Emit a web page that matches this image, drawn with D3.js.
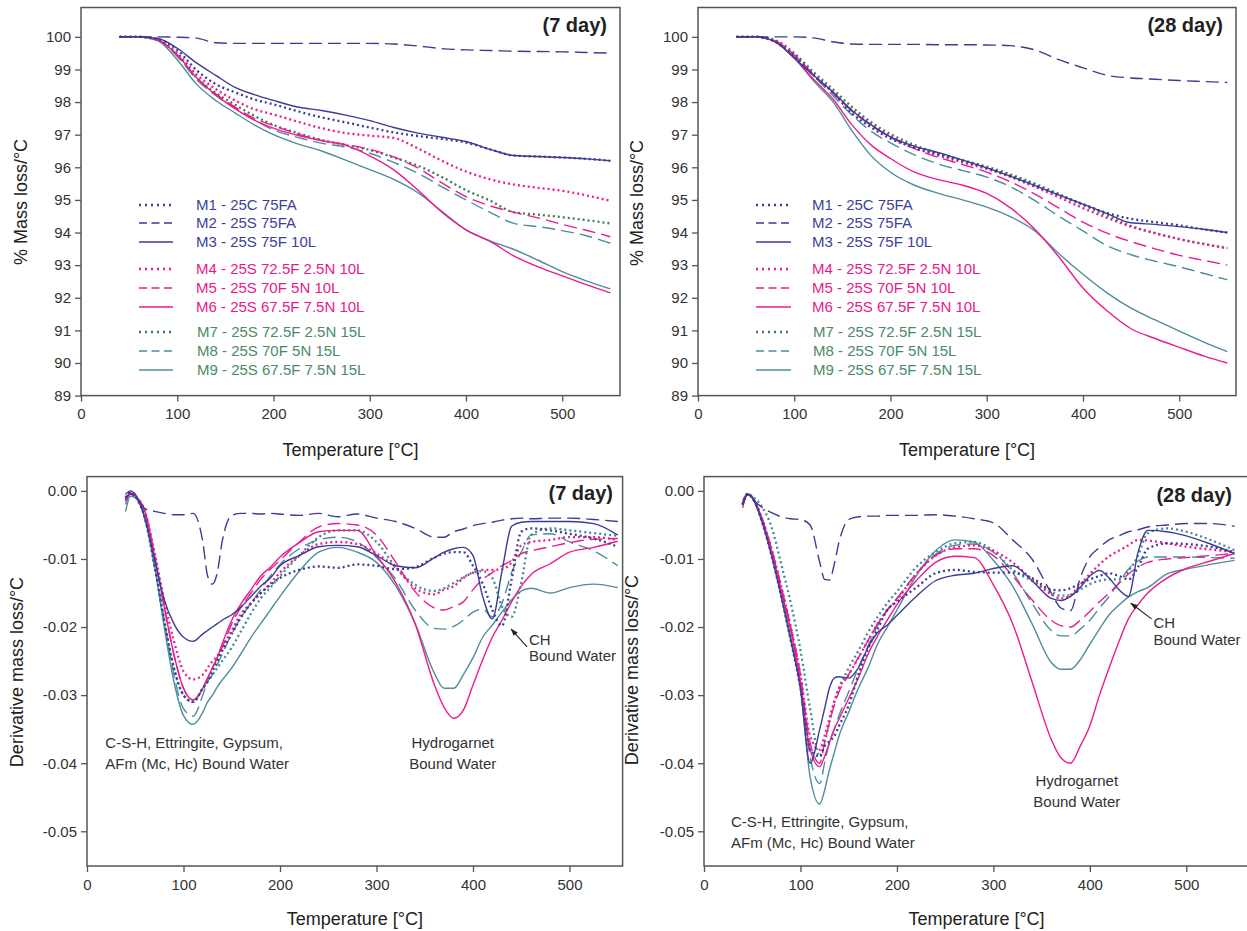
<!DOCTYPE html>
<html><head><meta charset="utf-8">
<script src="https://cdn.jsdelivr.net/npm/d3@7"></script>
<style>
body{margin:0;background:#fff;}
svg{display:block;font-family:"Liberation Sans",Arial,Helvetica,sans-serif;}
</style>
</head><body>
<svg id="c" width="1247" height="931"></svg>
<script>
// ---------------- DATA ----------------
const seriesNames = ["M1 - 25C 75FA","M2 - 25S 75FA","M3 - 25S 75F 10L",
  "M4 - 25S 72.5F 2.5N 10L","M5 - 25S 70F 5N 10L","M6 - 25S 67.5F 7.5N 10L",
  "M7 - 25S 72.5F 2.5N 15L","M8 - 25S 70F 5N 15L","M9 - 25S 67.5F 7.5N 15L"];
const seriesStyles = ["dot","dash","solid","dot","dash","solid","dot","dash","solid"];
const tgaColors = ["#3b3d94","#3b3d94","#3b3d94","#ec1c8e","#ec1c8e","#ec1c8e","#3d7c57","#4a8ca0","#4f8c9c"];
const dtgColors = ["#3b3d94","#3b3d94","#3b3d94","#ec1c8e","#ec1c8e","#ec1c8e","#3f8b93","#4a8ca0","#4f8c9c"];
const legendTextColors = ["#3d3f99","#3d3f99","#3d3f99","#e8198b","#e8198b","#e8198b","#4a8a68","#4a8a68","#4a8a68"];

const xTickValues = [0,100,200,300,400,500];
const tgaYTicks = [89,90,91,92,93,94,95,96,97,98,99,100];
const dtgYTicks = [0,-0.01,-0.02,-0.03,-0.04,-0.05];

// TGA temperatures (°C)
const tgaTemps = [40,60,80,100,120,140,160,180,200,225,250,275,300,325,350,375,400,425,450,475,500,525,550];
// TGA 7 day (% mass)
const tga7M1 = [100,100,99.93,99.6,98.98,98.55,98.3,98.08,97.93,97.72,97.53,97.38,97.22,97.07,96.96,96.87,96.76,96.55,96.36,96.33,96.3,96.26,96.2];
const tga7M2 = [100,100,100,99.99,99.96,99.82,99.8,99.8,99.8,99.8,99.8,99.8,99.8,99.78,99.72,99.64,99.6,99.58,99.56,99.55,99.54,99.52,99.5];
const tga7M3 = [100,100,99.95,99.65,99.2,98.82,98.45,98.23,98.05,97.85,97.74,97.6,97.43,97.22,97.05,96.92,96.79,96.55,96.36,96.33,96.3,96.26,96.2];
const tga7M4 = [100,100,99.9,99.5,98.85,98.4,98.05,97.78,97.62,97.4,97.2,97.05,96.97,96.9,96.58,96.2,95.87,95.63,95.47,95.37,95.28,95.14,94.97];
const tga7M5 = [100,100,99.9,99.45,98.75,98.25,97.85,97.5,97.28,97.02,96.82,96.7,96.55,96.32,95.98,95.52,95.1,94.82,94.62,94.45,94.25,94.07,93.87];
const tga7M6 = [100,100,99.9,99.45,98.75,98.22,97.8,97.45,97.2,96.98,96.82,96.68,96.35,95.92,95.3,94.62,94.08,93.73,93.28,92.95,92.67,92.4,92.15];
const tga7M7 = [100,100,99.9,99.45,98.75,98.28,97.92,97.58,97.3,97.05,96.84,96.68,96.53,96.3,96.05,95.7,95.3,94.98,94.62,94.55,94.47,94.38,94.28];
const tga7M8 = [100,100,99.9,99.4,98.7,98.2,97.82,97.45,97.15,96.92,96.74,96.62,96.43,96.15,95.82,95.4,95.0,94.62,94.28,94.18,94.06,93.9,93.67];
const tga7M9 = [100,100,99.88,99.3,98.55,98.05,97.67,97.3,97.0,96.72,96.5,96.22,95.93,95.63,95.22,94.65,94.08,93.74,93.48,93.15,92.8,92.52,92.27];
// TGA 28 day (% mass)
const tga28M1 = [100,100,99.85,99.4,98.82,98.3,97.65,97.22,96.88,96.6,96.4,96.2,95.98,95.73,95.45,95.15,94.87,94.6,94.42,94.32,94.22,94.1,94.0];
const tga28M2 = [100,100,100,100,99.97,99.85,99.78,99.77,99.77,99.77,99.76,99.76,99.75,99.73,99.6,99.3,99.05,98.82,98.74,98.7,98.66,98.63,98.6];
const tga28M3 = [100,100,99.85,99.35,98.82,98.32,97.74,97.3,96.93,96.64,96.45,96.22,95.98,95.72,95.44,95.15,94.87,94.58,94.3,94.25,94.18,94.1,94.0];
const tga28M4 = [100,100,99.88,99.45,98.85,98.3,97.75,97.3,96.95,96.6,96.35,96.15,95.95,95.7,95.4,95.08,94.75,94.45,94.18,93.98,93.8,93.65,93.52];
const tga28M5 = [100,100,99.88,99.45,98.85,98.28,97.72,97.28,96.92,96.57,96.3,96.08,95.85,95.55,95.18,94.75,94.32,93.98,93.72,93.5,93.3,93.15,93.0];
const tga28M6 = [100,100,99.85,99.35,98.7,98.1,97.3,96.68,96.27,95.85,95.62,95.45,95.2,94.75,94.1,93.25,92.3,91.6,91.05,90.75,90.48,90.22,90.0];
const tga28M7 = [100,100,99.9,99.5,98.92,98.4,97.85,97.38,97.02,96.68,96.43,96.22,96.02,95.78,95.5,95.18,94.85,94.52,94.2,93.98,93.8,93.65,93.52];
const tga28M8 = [100,100,99.85,99.4,98.8,98.2,97.6,97.1,96.75,96.38,96.1,95.9,95.7,95.4,94.98,94.5,94.05,93.6,93.32,93.12,92.95,92.75,92.55];
const tga28M9 = [100,100,99.85,99.35,98.65,98.02,97.12,96.35,95.85,95.45,95.2,95.0,94.78,94.48,94.05,93.35,92.72,92.15,91.68,91.32,90.98,90.65,90.35];

// DTG temperatures (°C)
const dtgTemps = [40,45,50,60,70,80,90,100,110,120,125,130,135,140,150,160,170,180,190,200,220,240,260,280,300,320,340,360,370,380,390,400,410,420,430,440,450,460,480,500,525,550];
// DTG 7 day (%/°C)
const dtg7M1 = [-0.001,-0.0002,-0.0008,-0.004,-0.011,-0.019,-0.026,-0.030,-0.031,-0.029,-0.028,-0.0265,-0.025,-0.0235,-0.021,-0.0185,-0.0165,-0.015,-0.0138,-0.0128,-0.0116,-0.0111,-0.0113,-0.0108,-0.011,-0.0115,-0.0112,-0.0098,-0.0092,-0.009,-0.009,-0.011,-0.0136,-0.0175,-0.0198,-0.013,-0.006,-0.0055,-0.0058,-0.0063,-0.007,-0.0082];
const dtg7M2 = [-0.0012,-0.0003,-0.001,-0.0026,-0.003,-0.0033,-0.0035,-0.0035,-0.0033,-0.0075,-0.0125,-0.0137,-0.012,-0.0075,-0.0036,-0.0033,-0.0033,-0.0034,-0.0033,-0.0034,-0.0036,-0.0033,-0.0038,-0.0034,-0.004,-0.0045,-0.0055,-0.0068,-0.0068,-0.006,-0.0056,-0.0051,-0.0048,-0.0046,-0.0043,-0.0041,-0.004,-0.0041,-0.004,-0.004,-0.0042,-0.0045];
const dtg7M3 = [-0.0005,0,-0.0005,-0.004,-0.010,-0.016,-0.0195,-0.0215,-0.0221,-0.021,-0.0205,-0.020,-0.0195,-0.019,-0.0182,-0.017,-0.0155,-0.014,-0.0128,-0.011,-0.0095,-0.0082,-0.008,-0.0082,-0.0095,-0.011,-0.0113,-0.0098,-0.009,-0.0085,-0.0083,-0.0095,-0.0155,-0.0188,-0.0118,-0.0052,-0.0046,-0.0045,-0.0045,-0.0045,-0.0048,-0.0065];
const dtg7M4 = [-0.0015,-0.0005,-0.0008,-0.003,-0.009,-0.016,-0.022,-0.0265,-0.0277,-0.027,-0.026,-0.025,-0.0243,-0.023,-0.0205,-0.018,-0.0165,-0.015,-0.0136,-0.012,-0.0095,-0.0078,-0.0075,-0.0078,-0.0092,-0.0113,-0.0143,-0.0152,-0.0145,-0.014,-0.0128,-0.012,-0.0116,-0.0116,-0.0115,-0.0105,-0.008,-0.0075,-0.0072,-0.0068,-0.0068,-0.0072];
const dtg7M5 = [-0.0015,-0.0005,-0.0008,-0.003,-0.0095,-0.017,-0.024,-0.029,-0.0307,-0.029,-0.0275,-0.026,-0.0245,-0.023,-0.0195,-0.017,-0.015,-0.013,-0.0115,-0.0102,-0.0075,-0.0053,-0.0048,-0.005,-0.0065,-0.0105,-0.0148,-0.0172,-0.0175,-0.017,-0.0163,-0.0145,-0.013,-0.012,-0.011,-0.0102,-0.0092,-0.0088,-0.0082,-0.0076,-0.0071,-0.007];
const dtg7M6 = [-0.0012,-0.0003,-0.0008,-0.003,-0.0095,-0.017,-0.024,-0.029,-0.0307,-0.029,-0.0275,-0.026,-0.0245,-0.0225,-0.019,-0.0165,-0.0145,-0.0125,-0.0112,-0.0097,-0.0076,-0.006,-0.0058,-0.0058,-0.0095,-0.0135,-0.0195,-0.0285,-0.0318,-0.0334,-0.0322,-0.0285,-0.0248,-0.0215,-0.019,-0.0163,-0.014,-0.0123,-0.0107,-0.009,-0.0083,-0.0074];
const dtg7M7 = [-0.001,-0.0003,-0.0008,-0.004,-0.011,-0.019,-0.026,-0.030,-0.031,-0.029,-0.028,-0.027,-0.026,-0.025,-0.023,-0.0205,-0.018,-0.0158,-0.0142,-0.0125,-0.0095,-0.0068,-0.0058,-0.0058,-0.0075,-0.0112,-0.0138,-0.0147,-0.0143,-0.0135,-0.0127,-0.012,-0.0118,-0.0128,-0.017,-0.0185,-0.0135,-0.0065,-0.0055,-0.0058,-0.0062,-0.0066];
const dtg7M8 = [-0.002,-0.0005,-0.0008,-0.004,-0.011,-0.019,-0.027,-0.032,-0.0331,-0.030,-0.028,-0.027,-0.0255,-0.024,-0.021,-0.0185,-0.0165,-0.0145,-0.0125,-0.0108,-0.0085,-0.0072,-0.0068,-0.0075,-0.0098,-0.013,-0.0175,-0.0202,-0.0203,-0.0199,-0.019,-0.0178,-0.0174,-0.0185,-0.0165,-0.012,-0.009,-0.0065,-0.0063,-0.0075,-0.0088,-0.011];
const dtg7M9 = [-0.003,-0.0008,-0.001,-0.004,-0.011,-0.020,-0.028,-0.033,-0.0343,-0.0325,-0.031,-0.030,-0.0288,-0.0278,-0.026,-0.0238,-0.0215,-0.0195,-0.0175,-0.0155,-0.0118,-0.009,-0.0083,-0.009,-0.0105,-0.014,-0.0195,-0.0268,-0.029,-0.029,-0.027,-0.0245,-0.0215,-0.0197,-0.0178,-0.016,-0.0147,-0.0143,-0.015,-0.0142,-0.0137,-0.0142];
// DTG 28 day (%/°C)
const dtg28M1 = [-0.002,-0.0005,-0.001,-0.0045,-0.0095,-0.0155,-0.022,-0.029,-0.038,-0.039,-0.0375,-0.0368,-0.036,-0.0345,-0.0315,-0.027,-0.0232,-0.0203,-0.0175,-0.0163,-0.0142,-0.0121,-0.0116,-0.0119,-0.012,-0.012,-0.0128,-0.0145,-0.0146,-0.0143,-0.0136,-0.013,-0.0125,-0.0121,-0.0125,-0.013,-0.0112,-0.0085,-0.0077,-0.0078,-0.0082,-0.009];
const dtg28M2 = [-0.002,-0.0005,-0.0012,-0.0024,-0.0032,-0.0038,-0.0041,-0.0042,-0.005,-0.0105,-0.013,-0.0131,-0.0108,-0.0075,-0.0042,-0.0038,-0.0037,-0.0037,-0.0036,-0.0036,-0.0036,-0.0035,-0.0037,-0.0041,-0.0047,-0.0072,-0.010,-0.015,-0.0172,-0.0176,-0.0128,-0.0097,-0.0083,-0.0072,-0.0066,-0.006,-0.0057,-0.0053,-0.005,-0.0048,-0.0048,-0.0052];
const dtg28M3 = [-0.002,-0.0005,-0.001,-0.0045,-0.0095,-0.0155,-0.022,-0.029,-0.040,-0.035,-0.032,-0.029,-0.0275,-0.0273,-0.0275,-0.026,-0.023,-0.0208,-0.0197,-0.0183,-0.0155,-0.0132,-0.0124,-0.0121,-0.0114,-0.011,-0.0132,-0.0158,-0.0161,-0.0155,-0.0142,-0.0125,-0.0117,-0.0128,-0.0145,-0.0155,-0.009,-0.0058,-0.006,-0.0066,-0.0078,-0.0092];
const dtg28M4 = [-0.002,-0.0005,-0.001,-0.004,-0.0085,-0.014,-0.020,-0.027,-0.036,-0.038,-0.036,-0.0335,-0.031,-0.029,-0.027,-0.0245,-0.022,-0.0195,-0.0175,-0.016,-0.0122,-0.0095,-0.0083,-0.008,-0.0088,-0.0105,-0.013,-0.0152,-0.0158,-0.0153,-0.0138,-0.0122,-0.0108,-0.0096,-0.0088,-0.008,-0.0072,-0.0073,-0.0077,-0.0082,-0.0086,-0.009];
const dtg28M5 = [-0.002,-0.0005,-0.001,-0.004,-0.0085,-0.014,-0.020,-0.027,-0.037,-0.040,-0.037,-0.034,-0.0315,-0.0295,-0.027,-0.0245,-0.022,-0.0195,-0.0175,-0.0158,-0.0122,-0.0095,-0.0085,-0.0085,-0.0095,-0.0125,-0.016,-0.019,-0.0198,-0.02,-0.019,-0.0177,-0.0163,-0.015,-0.0136,-0.0122,-0.0112,-0.0105,-0.01,-0.0098,-0.0095,-0.0092];
const dtg28M6 = [-0.0025,-0.0006,-0.001,-0.004,-0.0088,-0.0145,-0.0205,-0.028,-0.038,-0.0405,-0.039,-0.037,-0.035,-0.0335,-0.0305,-0.0275,-0.024,-0.0213,-0.019,-0.0167,-0.0132,-0.0105,-0.0096,-0.0098,-0.0138,-0.0195,-0.028,-0.0365,-0.0392,-0.040,-0.0375,-0.0345,-0.030,-0.026,-0.0222,-0.0188,-0.0167,-0.015,-0.0128,-0.0114,-0.0103,-0.0092];
const dtg28M7 = [-0.002,-0.0004,-0.0008,-0.0023,-0.0053,-0.0107,-0.0165,-0.0234,-0.032,-0.039,-0.037,-0.034,-0.031,-0.029,-0.026,-0.0235,-0.0208,-0.0185,-0.0165,-0.0148,-0.0112,-0.009,-0.0077,-0.0075,-0.0088,-0.0116,-0.0132,-0.0148,-0.0154,-0.0153,-0.0145,-0.0137,-0.0132,-0.013,-0.013,-0.0118,-0.0095,-0.0062,-0.0055,-0.006,-0.0072,-0.0087];
const dtg28M8 = [-0.002,-0.0005,-0.001,-0.004,-0.0088,-0.0145,-0.0205,-0.028,-0.039,-0.043,-0.040,-0.037,-0.035,-0.033,-0.0295,-0.026,-0.0228,-0.0198,-0.0175,-0.0158,-0.0122,-0.0093,-0.008,-0.0078,-0.009,-0.012,-0.0165,-0.0205,-0.0213,-0.0213,-0.0203,-0.019,-0.0172,-0.0155,-0.0135,-0.0115,-0.0103,-0.0097,-0.0097,-0.0097,-0.0098,-0.0099];
const dtg28M9 = [-0.0015,-0.0004,-0.0008,-0.0042,-0.009,-0.015,-0.0215,-0.029,-0.042,-0.046,-0.044,-0.041,-0.0385,-0.036,-0.0325,-0.029,-0.026,-0.0225,-0.020,-0.0175,-0.0125,-0.0088,-0.0072,-0.0075,-0.0102,-0.014,-0.0195,-0.0252,-0.0262,-0.0262,-0.0248,-0.0225,-0.0203,-0.0182,-0.0168,-0.0156,-0.0148,-0.0142,-0.0122,-0.0115,-0.0108,-0.0102];

// annotations (anchored in data units: temperature, derivative)
const annotations7 = [
  {t:19, v:-0.0378, lines:["C-S-H, Ettringite, Gypsum,","AFm (Mc, Hc) Bound Water"], anchor:"start", lh:21},
  {t:379, v:-0.0378, lines:["Hydrogarnet","Bound Water"], anchor:"middle", lh:21},
  {t:458, v:-0.0226, lines:["CH","Bound Water"], anchor:"start", lh:16.5}
];
const arrow7 = {t0:456, v0:-0.0229, t1:439.5, v1:-0.0203};
const annotations28 = [
  {t:28, v:-0.0494, lines:["C-S-H, Ettringite, Gypsum,","AFm (Mc, Hc) Bound Water"], anchor:"start", lh:21},
  {t:386.5, v:-0.0433, lines:["Hydrogarnet","Bound Water"], anchor:"middle", lh:21},
  {t:466, v:-0.0201, lines:["CH","Bound Water"], anchor:"start", lh:17}
];
const arrow28 = {t0:464, v0:-0.0188, t1:442.5, v1:-0.0165};

// ---------------- LAYOUT ----------------
const svg = d3.select("#c");
const defs = svg.append("defs");
defs.append("marker").attr("id","ah").attr("viewBox","0 0 10 10").attr("refX",9).attr("refY",5)
  .attr("markerWidth",7).attr("markerHeight",7).attr("orient","auto")
  .append("path").attr("d","M0,1.5 L10,5 L0,8.5 Z").attr("fill","#222");

const panels = [
  {id:"tl", temps:tgaTemps, data:[tga7M1,tga7M2,tga7M3,tga7M4,tga7M5,tga7M6,tga7M7,tga7M8,tga7M9], colors:tgaColors,
   left:81, right:620, top:7.5, bottom:395.6, xMax:560, yDom:[89,100.9], yTicks:tgaYTicks, yFmt:d=>String(d),
   yTitle:"% Mass loss/°C", yTitleX:21, yTitleY:202, xTitleY:456, day:"(7 day)", dayX:607, dayY:32,
   legend:{x0:139, x1:173, tx:196, rows:[205,223,242,269,288,307,332,351,370]}},
  {id:"tr", temps:tgaTemps, data:[tga28M1,tga28M2,tga28M3,tga28M4,tga28M5,tga28M6,tga28M7,tga28M8,tga28M9], colors:tgaColors,
   left:698, right:1236, xMax:559, top:7.5, bottom:395.6, yDom:[89,100.9], yTicks:tgaYTicks, yFmt:d=>String(d),
   yTitle:"% Mass loss/°C", yTitleX:637, yTitleY:203, xTitleY:456, day:"(28 day)", dayX:1223, dayY:32,
   legend:{x0:756, x1:791, tx:812, rows:[205,223,242,269,288,307,332,351,370]}},
  {id:"bl", temps:dtgTemps, data:[dtg7M1,dtg7M2,dtg7M3,dtg7M4,dtg7M5,dtg7M6,dtg7M7,dtg7M8,dtg7M9], colors:dtgColors,
   left:87, right:622.6, xMax:555, top:476.6, bottom:866, yDom:[-0.0551,0.0021], yTicks:dtgYTicks, yFmt:d=>d.toFixed(2),
   yTitle:"Derivative mass loss/°C", yTitleX:17, yTitleY:672, xTitleY:925, day:"(7 day)", dayX:613, dayY:500,
   ann:annotations7, arrow:arrow7},
  {id:"br", temps:dtgTemps, data:[dtg28M1,dtg28M2,dtg28M3,dtg28M4,dtg28M5,dtg28M6,dtg28M7,dtg28M8,dtg28M9], colors:dtgColors,
   left:704, right:1249, xMax:565, top:476.6, bottom:866, yDom:[-0.0551,0.0021], yTicks:dtgYTicks, yFmt:d=>d.toFixed(2),
   yTitle:"Derivative mass loss/°C", yTitleX:632, yTitleY:670, xTitleY:925, day:"(28 day)", dayX:1232, dayY:502,
   ann:annotations28, arrow:arrow28}
];

function styleOf(s){
  if(s==="dot") return {dash:"2,3", w:2.3, cap:"butt"};
  if(s==="dash") return {dash:"13,6", w:1.4, cap:"butt"};
  return {dash:null, w:1.4, cap:"butt"};
}

panels.forEach(p=>{
  const x = d3.scaleLinear().domain([0,p.xMax]).range([p.left,p.right]);
  const y = d3.scaleLinear().domain(p.yDom).range([p.bottom,p.top]);
  const g = svg.append("g").attr("id",p.id);

  defs.append("clipPath").attr("id","clip-"+p.id).append("rect")
    .attr("x",p.left).attr("y",p.top).attr("width",p.right-p.left).attr("height",p.bottom-p.top);

  // axes
  const ax = g.append("g").attr("transform",`translate(0,${p.bottom})`)
    .call(d3.axisBottom(x).tickValues(xTickValues).tickSize(6).tickPadding(7).tickFormat(d3.format("d")));
  const ay = g.append("g").attr("transform",`translate(${p.left},0)`)
    .call(d3.axisLeft(y).tickValues(p.yTicks).tickSize(6).tickPadding(4).tickFormat(p.yFmt));
  [ax,ay].forEach(a=>{
    a.select(".domain").remove();
    a.selectAll(".tick line").attr("stroke","#555").attr("stroke-width",1.3);
    a.selectAll(".tick text").attr("fill","#333").style("font-size","15px")
      .style("font-family",'"Liberation Sans",Arial,sans-serif');
  });

  // lines
  const line = d3.line().x((d,i)=>x(p.temps[i])).y(d=>y(d)).curve(d3.curveMonotoneX);
  const lg = g.append("g").attr("clip-path",`url(#clip-${p.id})`);
  const order = [8,7,6,5,4,3,2,1,0];
  order.forEach(k=>{
    const st = styleOf(seriesStyles[k]);
    lg.append("path").attr("d",line(p.data[k])).attr("fill","none")
      .attr("stroke",p.colors[k]).attr("stroke-width",st.w)
      .attr("stroke-dasharray",st.dash).attr("stroke-linecap",st.cap)
      .attr("stroke-linejoin","round");
  });

  // frame
  g.append("rect").attr("x",p.left).attr("y",p.top).attr("width",p.right-p.left).attr("height",p.bottom-p.top)
    .attr("fill","none").attr("stroke","#555").attr("stroke-width",1.5);

  // titles
  g.append("text").attr("x",(p.left+p.right)/2).attr("y",p.xTitleY).attr("text-anchor","middle")
    .attr("fill","#222").style("font-size","18px").text("Temperature [°C]");
  g.append("text").attr("transform",`translate(${p.yTitleX},${p.yTitleY}) rotate(-90)`).attr("dy","0.35em")
    .attr("text-anchor","middle").attr("fill","#222").style("font-size","18px").text(p.yTitle);
  g.append("text").attr("x",p.dayX).attr("y",p.dayY).attr("text-anchor","end")
    .attr("fill","#222").style("font-size","20px").style("font-weight","bold").text(p.day);

  // legend
  if(p.legend){
    const L = p.legend;
    seriesNames.forEach((nm,k)=>{
      const st = styleOf(seriesStyles[k]);
      const yy = L.rows[k];
      g.append("line").attr("x1",L.x0).attr("x2",L.x1).attr("y1",yy).attr("y2",yy)
        .attr("stroke",p.colors[k]).attr("stroke-width",st.w)
        .attr("stroke-dasharray",seriesStyles[k]==="dot"?"2,4":(seriesStyles[k]==="dash"?"8,4.5":null));
      g.append("text").attr("x",L.tx + (k>=6?1:0)).attr("y",yy).attr("dy","0.36em")
        .attr("fill",legendTextColors[k]).style("font-size","15px").text(nm);
    });
  }

  // annotations
  if(p.ann){
    p.ann.forEach(a=>{
      const t = g.append("text").attr("x",x(a.t)).attr("y",y(a.v)).attr("text-anchor",a.anchor)
        .attr("fill","#333").style("font-size","15px");
      a.lines.forEach((ln,i)=>{
        t.append("tspan").attr("x",x(a.t)).attr("dy",i===0?0:a.lh).text(ln);
      });
    });
    const A = p.arrow;
    g.append("line").attr("x1",x(A.t0)).attr("y1",y(A.v0)).attr("x2",x(A.t1)).attr("y2",y(A.v1))
      .attr("stroke","#222").attr("stroke-width",1.1).attr("marker-end","url(#ah)");
  }
});
</script>
</body></html>
